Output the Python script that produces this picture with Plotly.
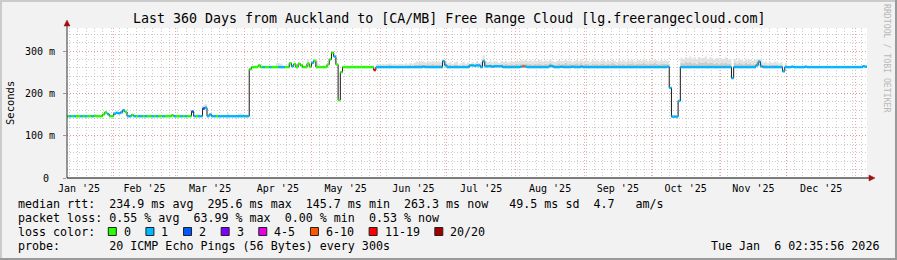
import plotly.graph_objects as go
from datetime import datetime, timedelta

# ---------------- data (daily samples, 360 days) ----------------
START = datetime(2025, 1, 11, 2, 35, 56)
END = datetime(2026, 1, 6, 2, 35, 56)
N_DAYS = 360

MEDIAN = [
    146,146,146,146,146,146,146,146,146,146, 146,146,147,146,146,146,150,155,151,146, 146,152,154,153,155,160,156,146,146,149,
    146,146,146,146,146,146,146,146,146,146, 146,146,146,146,146,146,146,148,146,146, 146,146,146,146,146,146,157,146,146,146,
    146,164,166,146,150,146,146,146,146,146, 146,146,146,146,146,146,146,146,146,146, 146,146,257,262,262,262,266,262,262,262,
    262,262,262,262,262,262,262,262,262,262, 271,264,269,262,270,266,262,262,270,263, 272,277,262,262,262,262,262,268,280,296,
    287,268,184,250,262,262,262,262,262,262, 262,262,262,262,262,262,262,262,255,262, 262,262,262,262,262,262,262,262,262,262,
    262,262,262,262,262,262,262,262,262,262, 263,262,262,262,262,262,262,262,262,276, 266,262,262,262,262,262,262,262,262,262,
    262,266,266,265,266,266,262,276,264,264, 264,263,264,264,264,264,262,262,262,262, 262,262,262,262,263,264,263,262,262,262,
    262,262,262,262,262,262,262,265,264,262, 262,262,263,262,262,262,262,263,262,262, 262,263,262,262,262,262,262,262,262,262,
    262,262,262,262,262,262,262,262,262,262, 262,262,262,262,262,262,262,262,262,262, 262,262,262,262,262,262,262,262,262,262,
    263,213,145,145,145,182,262,262,262,262, 262,262,262,262,262,262,262,262,262,262, 262,262,262,262,262,262,262,262,262,236,
    262,262,262,262,262,262,262,262,262,262, 266,275,264,262,262,262,262,262,262,262, 262,262,252,262,262,262,263,262,262,262,
    262,262,263,262,262,262,262,262,262,262, 262,262,262,262,262,262,262,262,262,262, 262,262,262,262,262,262,262,262,264,263,
]

# loss category index per day (0 -> "0", 1 -> "1", ... 7 -> "20/20")
LOSS = [
    0,1,0,1,0,0,1,0,1,0, 0,1,0,0,0,0,0,0,1,0, 0,1,1,1,1,1,0,1,1,0,
    1,0,1,1,0,1,0,0,1,0, 1,0,0,1,0,0,0,0,1,0, 0,1,0,1,0,0,2,1,0,1,
    1,2,1,1,1,1,1,0,1,1, 1,1,1,1,1,1,1,1,1,1, 1,1,0,0,0,0,0,0,1,0,
    0,1,0,0,0,1,1,1,0,0, 0,1,0,0,0,0,0,0,0,0, 1,0,0,0,0,0,0,0,0,0,
    1,0,0,0,0,0,0,0,0,0, 0,0,0,0,0,0,0,0,6,1, 1,1,1,1,1,1,1,1,1,1,
    1,1,1,1,1,1,1,1,1,1, 1,1,1,1,1,1,1,1,1,1, 1,1,1,1,1,1,1,1,1,1,
    1,1,1,1,1,1,1,1,1,1, 1,1,1,1,1,1,1,1,1,1, 1,1,1,1,1,5,1,1,1,1,
    1,1,1,1,1,1,1,1,1,1, 1,1,1,1,1,1,1,1,1,1, 1,1,1,1,1,1,1,1,1,1,
    1,1,1,1,1,1,1,1,1,1, 1,1,1,1,1,1,1,1,1,1, 1,1,1,1,1,1,1,1,1,1,
    1,1,1,1,1,1,1,1,1,1, 1,1,1,1,1,1,1,1,1,1, 1,1,1,1,1,1,1,1,1,1,
    1,1,1,1,1,1,1,1,1,1, 1,1,1,1,1,1,1,1,1,1, 1,1,1,1,1,1,1,1,1,1,
    1,1,1,1,1,1,1,1,1,1, 1,1,1,1,1,1,1,1,1,1, 1,1,1,1,1,1,1,1,1,1,
]

# inner (darker) smoke top
SMOKE_MID = [
    146,147,146,146,147,147,146,148,146,146, 147,146,148,146,146,147,151,156,152,147, 146,153,155,154,156,161,157,147,146,150,
    146,147,146,146,147,146,146,148,146,147, 146,146,147,146,146,146,148,149,147,146, 146,147,146,146,147,146,158,147,146,146,
    147,168,170,148,151,146,147,146,146,147, 146,147,150,146,146,147,146,149,150,148, 147,146,259,263,263,262,267,263,263,262,
    263,262,263,263,266,266,265,263,262,263, 272,265,270,263,271,267,263,264,275,264, 273,278,269,264,263,263,263,269,281,297,
    288,269,185,251,263,263,263,263,263,263, 263,263,263,263,263,263,263,263,256,265, 266,265,266,265,266,267,265,266,265,266,
    265,264,266,265,267,265,267,268,268,269, 268,267,269,268,270,268,268,269,267,278, 270,266,268,265,267,268,264,266,268,265,
    267,269,270,268,270,269,267,282,269,268, 270,267,269,269,267,270,268,270,267,269, 269,268,270,268,271,270,271,269,270,268,
    270,269,271,269,268,270,269,272,270,267, 269,271,268,270,272,269,270,268,270,271, 269,272,268,270,270,267,271,269,270,268,
    270,271,268,270,269,272,270,267,271,269, 270,268,271,270,272,269,270,271,270,272, 270,269,271,270,272,270,269,271,270,270,
    269,214,146,146,146,183,273,271,274,272, 275,271,273,270,274,272,273,275,271,273, 272,270,273,269,272,271,273,270,271,237,
    272,270,273,271,269,272,270,271,268,270, 272,278,271,267,268,266,268,267,268,267, 266,268,253,267,262,262,263,263,262,262,
    262,262,263,262,262,262,262,262,262,262, 262,262,262,262,262,262,262,262,262,262, 262,262,262,262,262,262,262,262,264,263,
]

# outer (lighter) smoke top
SMOKE_TOP = [
    147,148,147,147,148,149,147,150,147,147, 148,147,149,147,147,148,152,157,153,148, 147,154,156,155,157,162,158,148,147,151,
    147,148,147,147,148,147,147,149,147,148, 147,147,148,147,147,147,150,150,148,147, 147,148,147,147,148,147,159,148,147,147,
    148,172,175,150,152,147,148,147,147,148, 147,148,153,147,147,148,147,152,153,151, 148,147,262,264,264,263,268,264,264,263,
    264,263,265,264,271,271,270,264,263,264, 273,267,271,264,272,268,265,266,280,266, 274,279,277,266,264,265,264,270,283,298,
    289,270,186,252,265,264,265,264,265,264, 265,264,265,264,265,265,264,265,257,268, 270,269,270,268,270,271,269,270,268,270,
    270,268,271,269,272,270,273,275,274,276, 275,273,276,274,277,275,274,276,273,280, 276,271,274,269,273,275,268,272,274,270,
    273,270,274,271,275,272,274,290,276,274, 277,273,276,275,272,276,274,277,273,275, 276,274,277,275,278,277,279,276,278,275,
    278,276,279,277,275,278,276,280,277,274, 276,279,275,277,280,276,278,274,277,279, 276,280,275,278,277,274,279,276,278,275,
    277,279,275,278,276,280,277,274,279,276, 278,275,279,277,280,276,278,279,277,280, 278,276,279,277,280,278,276,279,277,278,
    276,215,147,147,147,184,284,281,286,283, 287,282,285,280,286,283,284,287,281,285, 283,280,284,279,283,281,285,280,282,238,
    281,277,283,279,276,282,278,280,275,279, 280,282,279,273,275,271,274,272,275,273, 271,274,254,272,263,263,263,264,263,263,
    263,263,264,263,263,263,263,263,263,263, 263,263,263,263,263,263,263,263,263,263, 263,263,263,263,263,263,263,263,265,264,
]

LOSS_LABELS = ["0", "1", "2", "3", "4-5", "6-10", "11-19", "20/20"]
LOSS_COLORS = ["#26ff00", "#00b8ff", "#0059ff", "#7e00ff", "#e600e6", "#ff5500", "#ff0000", "#a00000"]

Y_TICKS = [0, 100, 200, 300]
Y_LABELS = ["0 ", "100 m", "200 m", "300 m"]

TITLE = "Last 360 Days from Auckland to [CA/MB] Free Range Cloud [lg.freerangecloud.com]"
ROW_MEDIAN = "median rtt:  234.9 ms avg  295.6 ms max  145.7 ms min  263.3 ms now   49.5 ms sd  4.7   am/s"
ROW_LOSS = "packet loss: 0.55 % avg  63.99 % max  0.00 % min  0.53 % now"
ROW_COLOR = "loss color:"
ROW_PROBE = "probe:       20 ICMP Echo Pings (56 Bytes) every 300s"
STAMP = "Tue Jan  6 02:35:56 2026"
WATERMARK = "RRDTOOL / TOBI OETIKER"

# ---------------- layout geometry ----------------
W, H = 897, 260
L, R, T, B = 67, 30, 28, 82
PW, PH = W - L - R, H - T - B
FONT = "DejaVu Sans Mono"
CHAR_W = 7.02


def px(x):
    return (x - L) / PW


def py(y):
    return (H - B - y) / PH


def nb(s):
    return s.replace(" ", "\u00a0")


dates = [START + timedelta(days=i) for i in range(N_DAYS + 1)]
med_ext = MEDIAN + [MEDIAN[-1]]
mid_ext = SMOKE_MID + [SMOKE_MID[-1]]
top_ext = SMOKE_TOP + [SMOKE_TOP[-1]]

fig = go.Figure()
fig.add_trace(go.Scatter(x=dates, y=med_ext, mode="lines", line=dict(width=0, shape="hv"),
                         hoverinfo="skip", showlegend=False))
fig.add_trace(go.Scatter(x=dates, y=mid_ext, mode="lines", line=dict(width=0, shape="hv"),
                         fill="tonexty", fillcolor="#cbcbcb", hoverinfo="skip", showlegend=False))
fig.add_trace(go.Scatter(x=dates, y=top_ext, mode="lines", line=dict(width=0, shape="hv"),
                         fill="tonexty", fillcolor="#e2e2e2", hoverinfo="skip", showlegend=False))
fig.add_trace(go.Scatter(x=dates, y=med_ext, mode="lines", line=dict(width=1, shape="hv", color="#1a1a1a"),
                         showlegend=False))

for c, col in enumerate(LOSS_COLORS):
    xs, ys = [], []
    for i in range(N_DAYS):
        if LOSS[i] == c:
            xs += [dates[i], dates[i + 1], None]
            ys += [MEDIAN[i], MEDIAN[i], None]
    if xs:
        fig.add_trace(go.Scatter(x=xs, y=ys, mode="lines", line=dict(width=2.5, color=col),
                                 showlegend=False))

shapes = []
# frame
shapes.append(dict(type="rect", xref="paper", yref="paper", x0=px(0), x1=px(W), y0=py(0), y1=py(2),
                   fillcolor="#cbcbcb", line=dict(width=0), layer="above"))
shapes.append(dict(type="rect", xref="paper", yref="paper", x0=px(0), x1=px(2), y0=py(0), y1=py(H),
                   fillcolor="#cbcbcb", line=dict(width=0), layer="above"))
shapes.append(dict(type="rect", xref="paper", yref="paper", x0=px(0), x1=px(W), y0=py(H - 2), y1=py(H),
                   fillcolor="#999999", line=dict(width=0), layer="above"))
shapes.append(dict(type="rect", xref="paper", yref="paper", x0=px(W - 2), x1=px(W), y0=py(0), y1=py(H),
                   fillcolor="#999999", line=dict(width=0), layer="above"))
# axes with arrows
shapes.append(dict(type="line", xref="paper", yref="paper", x0=px(67), x1=px(869), y0=0, y1=0,
                   line=dict(color="#000000", width=1), layer="above"))
shapes.append(dict(type="line", xref="paper", yref="paper", x0=0, x1=0, y0=0, y1=py(24),
                   line=dict(color="#333333", width=1), layer="above"))
shapes.append(dict(type="path", xref="paper", yref="paper",
                   path=f"M {px(869)},{py(175)} L {px(869)},{py(181)} L {px(875)},{py(178)} Z",
                   fillcolor="#a01010", line=dict(color="#a01010", width=0.5), layer="above"))
shapes.append(dict(type="path", xref="paper", yref="paper",
                   path=f"M {px(64)},{py(26)} L {px(70)},{py(26)} L {px(67)},{py(20)} Z",
                   fillcolor="#a01010", line=dict(color="#a01010", width=0.5), layer="above"))

annotations = []


def txt(s, x, y, size=11.66, xanchor="left", color="#000000", angle=0):
    annotations.append(dict(text=nb(s), x=px(x), y=py(y), xref="paper", yref="paper",
                            xanchor=xanchor, yanchor="middle", showarrow=False, textangle=angle,
                            font=dict(family=FONT, size=size, color=color)))


txt(TITLE, W / 2, 18, size=13.3, xanchor="center")
txt("Seconds", 10, 103, size=10.5, xanchor="center", angle=-90)
txt(WATERMARK, 887, 59, size=8.2, xanchor="center", color="#b8b8b8", angle=90)
txt(ROW_MEDIAN, 16, 204)
txt(ROW_LOSS, 16, 218.3)
txt(ROW_COLOR, 16, 232)
txt(ROW_PROBE, 16, 246.3)
txt(STAMP, 881, 246.3, xanchor="right")

# loss colour legend: box, space, label, then a gap before the next box
bx = 108.3
for lab, col in zip(LOSS_LABELS, LOSS_COLORS):
    shapes.append(dict(type="rect", xref="paper", yref="paper", x0=px(bx), x1=px(bx + 8),
                       y0=py(235.5), y1=py(227.5), fillcolor=col,
                       line=dict(color="#222222", width=1), layer="above"))
    txt(lab, bx + 13.5, 232)
    bx += 30.6 + CHAR_W * len(lab)

grid_major = "rgba(235,120,120,0.65)"
grid_minor = "rgba(170,170,170,0.6)"

fig.update_layout(
    width=W, height=H,
    margin=dict(l=L, r=R, t=T, b=B, pad=0),
    paper_bgcolor="#f2f2f2", plot_bgcolor="#ffffff",
    showlegend=False,
    shapes=shapes, annotations=annotations,
    xaxis=dict(type="date", range=[START, END], dtick="M1", tick0="2025-01-01",
               ticklabelmode="period", tickformat="%b '%y", showline=False, zeroline=False,
               showgrid=True, gridcolor=grid_major, griddash="1px,2px", gridwidth=1,
               ticks="", tickfont=dict(family=FONT, size=10, color="#000000"), ticklabelstandoff=3,
               minor=dict(dtick=3.75 * 86400000, tick0="2025-01-01", showgrid=True,
                          gridcolor=grid_minor, griddash="1px,2px", gridwidth=1)),
    yaxis=dict(range=[0, 354.4], tickmode="array", tickvals=Y_TICKS, ticktext=Y_LABELS,
               showline=False, zeroline=False, showgrid=True, gridcolor=grid_major,
               griddash="1px,2px", gridwidth=1, ticks="outside", ticklen=3, tickcolor="#999999",
               tickfont=dict(family=FONT, size=10, color="#000000"), ticklabelstandoff=6,
               minor=dict(tickmode="linear", tick0=0, dtick=20, showgrid=True,
                          gridcolor=grid_minor, griddash="1px,2px", gridwidth=1)),
)

fig.write_html("out.html")
